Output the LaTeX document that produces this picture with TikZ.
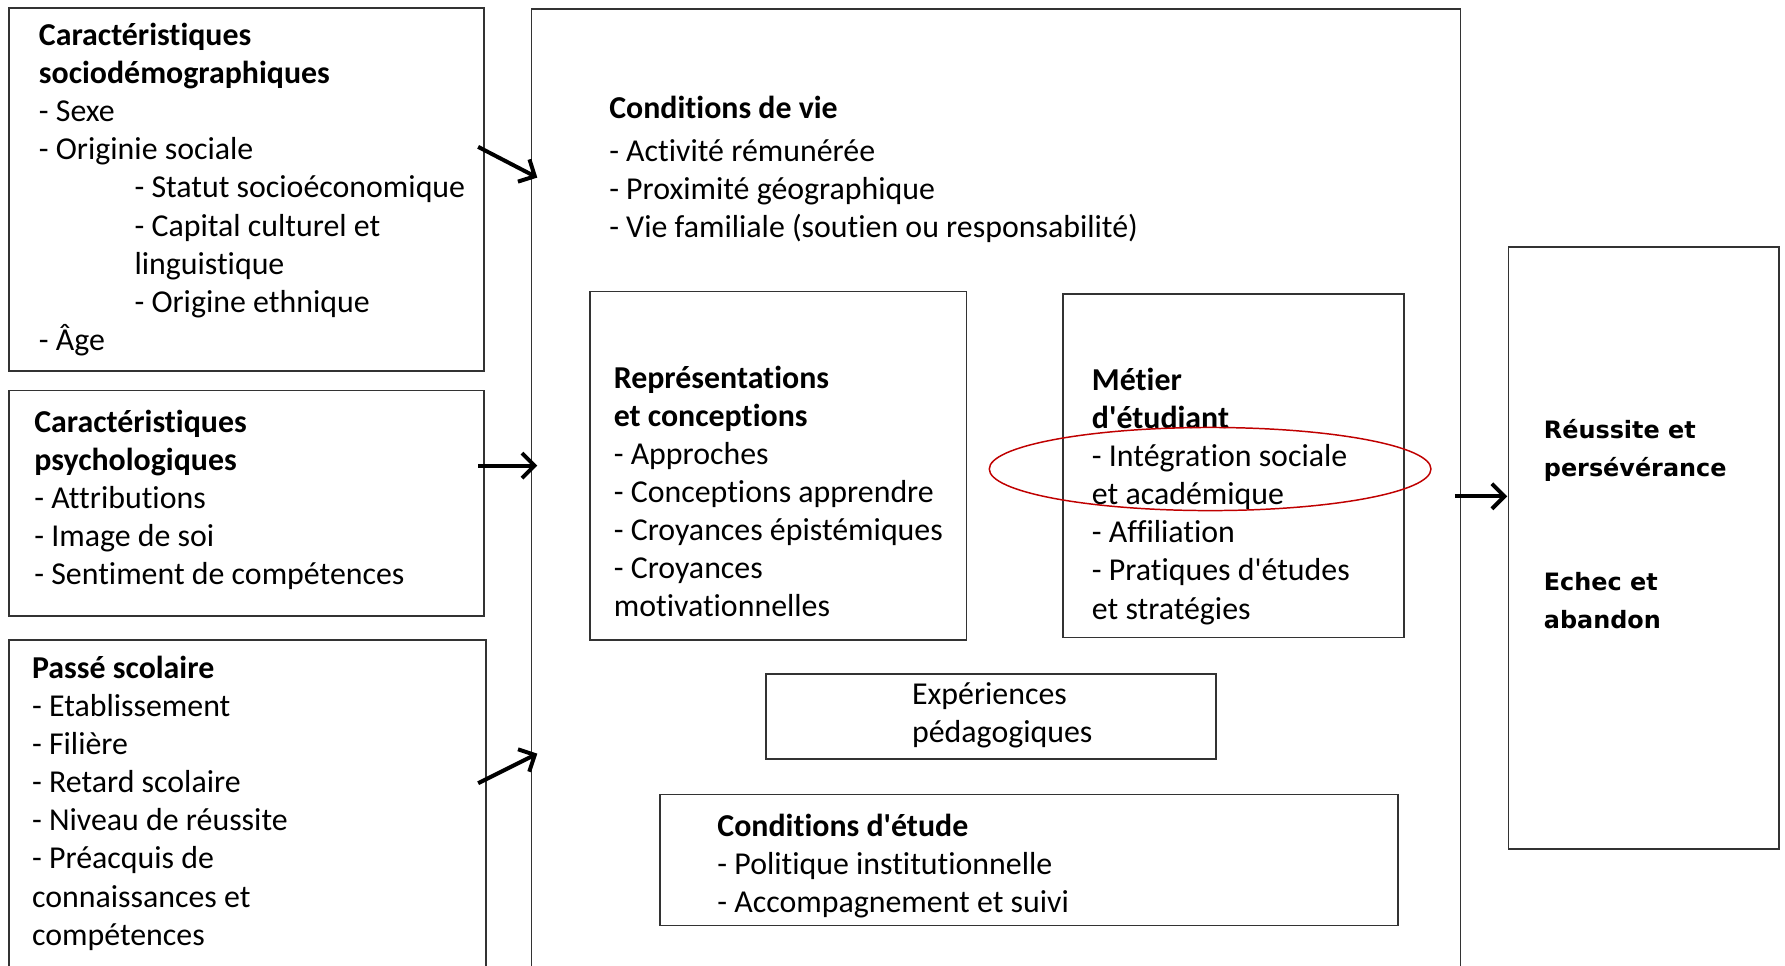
\documentclass[tikz,border=0pt]{standalone}
\usepackage{fontspec}
\newfontfamily\calfont[Ligatures=NoCommon]{Carlito}
\newfontfamily\headfont{DejaVu Sans}
\usetikzlibrary{arrows.meta,shapes.geometric}
\definecolor{boxgray}{HTML}{333333}
\definecolor{ellred}{HTML}{C00000}
\begin{document}
\begin{tikzpicture}[x=1pt,y=-1pt,
  box/.style={draw=boxgray,line width=1.5pt,inner sep=0pt,rectangle},
  txt/.style={anchor=north west,align=left,inner sep=0pt,text=black,
    font=\calfont\fontsize{28}{33.5}\selectfont},
  rtxt/.style={anchor=north west,align=left,inner sep=0pt,text=black,
    font=\headfont\bfseries\fontsize{21}{33.3}\selectfont},
  arr/.style={line width=3.5pt,-{Straight Barb[length=11pt,width=22pt]}}]
\useasboundingbox (0,0) rectangle (1568,848);
\clip (0,0) rectangle (1568,848);
\fill[white] (0,0) rectangle (1568,848);

% boxes
\node[box,minimum width=417pt,minimum height=319pt] (socio) at (216.5,166.5) {};
\node[box,minimum width=417pt,minimum height=198pt] (psy) at (216.5,442) {};
\node[box,minimum width=419pt,minimum height=338pt] (passe) at (217.5,731) {};
\node[box,minimum width=816pt,minimum height=892pt] (mid) at (875,454) {};
\node[box,minimum width=331pt,minimum height=306pt] (rep) at (683.5,409) {};
\node[box,minimum width=299pt,minimum height=302pt] (met) at (1083.5,409) {};
\node[box,minimum width=395pt,minimum height=75pt] (exp) at (870.5,629.5) {};
\node[box,minimum width=648pt,minimum height=115pt] (cet) at (904,755.5) {};
\node[box,minimum width=238pt,minimum height=529pt] (res) at (1444,481.5) {};

% texts
\node[txt] (tsocio) at (34,20) {\textbf{Caractéristiques}\\\textbf{sociodémographiques}\\- Sexe\\- Originie sociale\\
\hspace*{84pt}- Statut socioéconomique\\\hspace*{84pt}- Capital culturel et\\\hspace*{84pt}linguistique\\
\hspace*{84pt}- Origine ethnique\\- Âge};
\node[txt] (tpsy) at (30,360) {\textbf{Caractéristiques}\\\textbf{psychologiques}\\- Attributions\\- Image de soi\\- Sentiment de compétences};
\node[txt] (tpasse) at (28,576) {\textbf{Passé scolaire}\\- Etablissement\\- Filière\\- Retard scolaire\\- Niveau de réussite\\- Préacquis de\\connaissances et\\compétences};
\node[txt] (tvie) at (535,84) {\textbf{Conditions de vie}\\[4.5pt]- Activité rémunérée\\- Proximité géographique\\- Vie familiale (soutien ou responsabilité)};
\node[txt] (trep) at (539,321) {\textbf{Représentations}\\\textbf{et conceptions}\\- Approches\\- Conceptions apprendre\\- Croyances épistémiques\\- Croyances\\motivationnelles};
\node[txt] (tmet) at (959,323) {\textbf{Métier}\\\textbf{d'étudiant}\\- Intégration sociale\\et académique\\- Affiliation\\- Pratiques d'études\\et stratégies};
\node[txt] (texp) at (801,599) {Expériences\\pédagogiques};
\node[txt] (tcet) at (630,715) {\textbf{Conditions d'étude}\\- Politique institutionnelle\\- Accompagnement et suivi};
\node[rtxt] (tres) at (1356,368.5) {Réussite et\\persévérance\\[66.6pt]Echec et\\abandon};

% highlight
\node[draw=ellred,line width=1.3pt,ellipse,minimum width=388pt,minimum height=73pt,inner sep=0pt] (hl) at (1063,412) {};

% arrows
\coordinate (a1s) at (420,129);
\coordinate (a1e) at (472,156);
\coordinate (a2s) at (420,409);
\coordinate (a2e) at (472,409);
\coordinate (a3s) at (420,688);
\coordinate (a3e) at (472,662);
\coordinate (a4s) at (1278,436);
\coordinate (a4e) at (1324,436);
\draw[arr] (a1s) -- (a1e);
\draw[arr] (a2s) -- (a2e);
\draw[arr] (a3s) -- (a3e);
\draw[arr] (a4s) -- (a4e);
\end{tikzpicture}
\end{document}
